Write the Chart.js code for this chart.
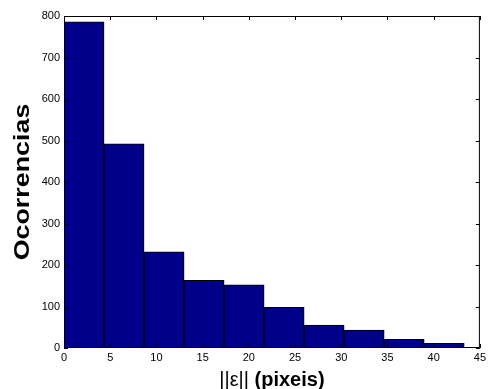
<!DOCTYPE html>
<html lang="pt">
<head>
    <meta charset="UTF-8">
    <title>Histograma</title>
    <script src="https://cdn.jsdelivr.net/npm/chart.js"></script>
    <style>
        body {
            margin: 0;
            background: #ffffff;
        }
        #wrap {
            width: 489px;
            height: 389px;
        }
    </style>
</head>
<body>
    <div id="wrap">
        <canvas id="histChart" width="489" height="389"></canvas>
    </div>

    <script>
        // bin centres of the histogram (pixels)
        const binCenters = [2.17, 6.50, 10.83, 15.16, 19.49, 23.82, 28.15, 32.48, 36.81, 41.14];
        // number of occurrences per bin
        const counts = [786, 492, 232, 163, 152, 98, 55, 43, 21, 11];
        const xTicks = [0, 5, 10, 15, 20, 25, 30, 35, 40, 45];
        const yTicks = [0, 100, 200, 300, 400, 500, 600, 700, 800];

        const yTitle = 'Ocorrencias';
        const xTitleNorm = '||ε||';
        const xTitleUnit = ' (pixeis)';

        const tickFont = { family: "'Liberation Sans', Arial, sans-serif", size: 11 };

        // box around the plot with inward ticks, like a matlab axes
        const boxPlugin = {
            id: 'boxPlugin',
            afterDraw(chart) {
                const ctx = chart.ctx;
                const a = chart.chartArea;
                const xs = chart.scales.x;
                const ys = chart.scales.y;
                ctx.save();
                ctx.strokeStyle = '#000';
                ctx.lineWidth = 1;
                ctx.strokeRect(a.left + 0.5, a.top + 0.5, a.right - a.left - 1, a.bottom - a.top - 1);
                ctx.beginPath();
                xTicks.forEach(v => {
                    const px = Math.round(xs.getPixelForValue(v)) + 0.5;
                    ctx.moveTo(px, a.bottom);
                    ctx.lineTo(px, a.bottom - 4);
                    ctx.moveTo(px, a.top);
                    ctx.lineTo(px, a.top + 4);
                });
                yTicks.forEach(v => {
                    const py = Math.round(ys.getPixelForValue(v)) + 0.5;
                    ctx.moveTo(a.left, py);
                    ctx.lineTo(a.left + 4, py);
                    ctx.moveTo(a.right, py);
                    ctx.lineTo(a.right - 4, py);
                });
                ctx.stroke();

                // axis titles
                ctx.fillStyle = '#000';
                ctx.save();
                ctx.translate(23, (a.top + a.bottom) / 2);
                ctx.rotate(-Math.PI / 2);
                ctx.scale(1.22, 1);
                ctx.font = "bold 22px 'Liberation Sans', Arial, sans-serif";
                ctx.textAlign = 'center';
                ctx.textBaseline = 'middle';
                ctx.fillText(yTitle, 0, 0);
                ctx.restore();

                const normFont = "20px 'Liberation Sans', Arial, sans-serif";
                const unitFont = "bold 20px 'Liberation Sans', Arial, sans-serif";
                ctx.font = normFont;
                const w1 = ctx.measureText(xTitleNorm).width;
                ctx.font = unitFont;
                const w2 = ctx.measureText(xTitleUnit).width;
                let x0 = (a.left + a.right) / 2 - (w1 + w2) / 2;
                ctx.textAlign = 'left';
                ctx.textBaseline = 'alphabetic';
                ctx.font = normFont;
                ctx.fillText(xTitleNorm, x0, 386);
                ctx.font = unitFont;
                ctx.fillText(xTitleUnit, x0 + w1, 386);
                ctx.restore();
            }
        };

        const ctx = document.getElementById('histChart').getContext('2d');
        new Chart(ctx, {
            type: 'bar',
            data: {
                datasets: [{
                    label: 'Ocorrencias',
                    data: binCenters.map((c, i) => ({ x: c, y: counts[i] })),
                    backgroundColor: '#00008B',
                    borderColor: '#000000',
                    borderWidth: 1,
                    barPercentage: 1,
                    categoryPercentage: 1
                }]
            },
            options: {
                responsive: false,
                animation: false,
                layout: { padding: { top: 16, right: 5, left: 0, bottom: 0 } },
                plugins: {
                    legend: { display: false },
                    tooltip: { enabled: false }
                },
                scales: {
                    x: {
                        type: 'linear',
                        offset: false,
                        min: 0,
                        max: 45,
                        afterBuildTicks: s => { s.ticks = xTicks.map(v => ({ value: v })); },
                        afterFit: s => { s.height = 41; },
                        grid: { display: false, drawTicks: false },
                        border: { display: false },
                        ticks: { color: '#000', font: tickFont, padding: 3, maxRotation: 0 }
                    },
                    y: {
                        min: 0,
                        max: 800,
                        afterBuildTicks: s => { s.ticks = yTicks.map(v => ({ value: v })); },
                        afterFit: s => { s.width = 64; },
                        grid: { display: false, drawTicks: false },
                        border: { display: false },
                        ticks: { color: '#000', font: tickFont, padding: 4 }
                    }
                }
            },
            plugins: [boxPlugin]
        });
    </script>
</body>
</html>
